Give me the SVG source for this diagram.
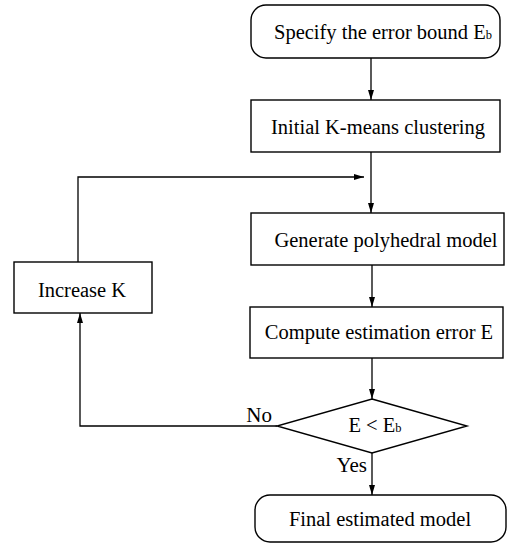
<svg xmlns="http://www.w3.org/2000/svg" width="511" height="546" viewBox="0 0 511 546">
<style>
.box{fill:#fff;stroke:#000;stroke-width:1.4}
.ln{fill:none;stroke:#000;stroke-width:1.3}
text{font-family:"Liberation Serif","Times New Roman",serif;font-size:20.5px;fill:#000}
.c{text-anchor:middle}
.e{text-anchor:end;font-size:21px}
.sub{font-size:12.5px}
</style>
<defs>
<marker id="ah" viewBox="0 0 10 6" refX="10" refY="3" markerWidth="10" markerHeight="6" markerUnits="userSpaceOnUse" orient="auto">
<path d="M0,0 L10,3 L0,6 Z" fill="#000"/>
</marker>
</defs>
<g id="connectors">
<line class="ln" x1="371" y1="58" x2="371" y2="100" marker-end="url(#ah)"/>
<line class="ln" x1="371" y1="152" x2="371" y2="213" marker-end="url(#ah)"/>
<polyline class="ln" points="78,262 78,177 364,177" marker-end="url(#ah)"/>
<line class="ln" x1="372" y1="265" x2="372" y2="307" marker-end="url(#ah)"/>
<line class="ln" x1="372" y1="358" x2="372" y2="399" marker-end="url(#ah)"/>
<polyline class="ln" points="277,426 80,426 80,313" marker-end="url(#ah)"/>
<line class="ln" x1="372" y1="453" x2="372" y2="495" marker-end="url(#ah)"/>
<text class="e" x="272" y="422">No</text>
<text class="e" x="367" y="472">Yes</text>
</g>
<g id="start">
<rect class="box" x="251" y="5" width="249" height="53" rx="15"/>
<text class="c" x="383" y="39">Specify the error bound E<tspan class="sub">b</tspan></text>
</g>
<g id="init">
<rect class="box" x="251" y="100" width="249" height="52"/>
<text class="c" x="378" y="134">Initial K-means clustering</text>
</g>
<g id="generate">
<rect class="box" x="251" y="213" width="253" height="52"/>
<text class="c" x="386" y="247">Generate polyhedral model</text>
</g>
<g id="compute">
<rect class="box" x="250" y="307" width="253" height="51"/>
<text class="c" x="379" y="339">Compute estimation error E</text>
</g>
<g id="decision">
<polygon class="box" points="372,399 467,426 372,453 277,426"/>
<text class="c" x="375" y="432">E &lt; E<tspan class="sub">b</tspan></text>
</g>
<g id="increase">
<rect class="box" x="14" y="262" width="138" height="51"/>
<text class="c" x="82" y="297">Increase K</text>
</g>
<g id="final">
<rect class="box" x="255" y="495" width="251" height="47" rx="15"/>
<text class="c" x="380" y="526">Final estimated model</text>
</g>
</svg>
